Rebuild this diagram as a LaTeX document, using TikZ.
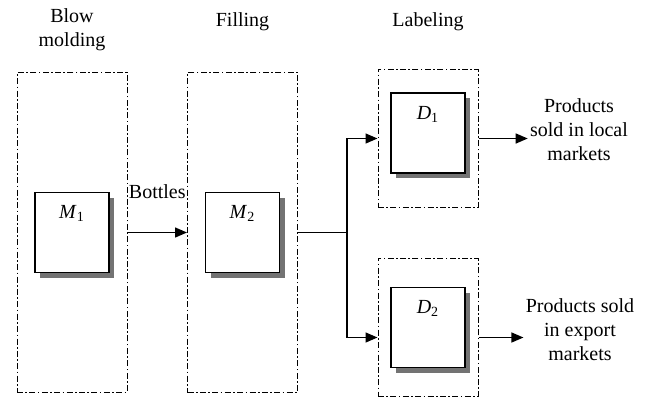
\documentclass[tikz,border=0pt]{standalone}
\usepackage{fontspec}
\setmainfont{Liberation Serif}
\usetikzlibrary{arrows.meta, shapes, positioning, shadows}

\tikzset{
  stage/.style={draw, line width=0.5pt,
    dash pattern=on 3pt off 1.2pt on 0.8pt off 1.2pt,
    minimum width=55pt, minimum height=160pt},
  labstage/.style={stage, minimum width=50pt, minimum height=69pt},
  machine/.style={draw, fill=white, line width=0.7pt,
    minimum width=37pt, minimum height=40pt,
    drop shadow={shadow xshift=2.5pt, shadow yshift=-2.5pt, fill=black!55, opacity=1}},
  mlabel/.style={anchor=north, yshift=-3.5pt},
  flow/.style={-{Triangle[length=6pt, width=5pt]}, line width=0.7pt},
  outtext/.style={align=center, inner sep=1pt},
}

\begin{document}
\begin{tikzpicture}[x=1pt, y=1pt, node distance=2cm, on grid]
    \useasboundingbox (0,0) rectangle (324,199);

    % Stages
    \node[stage] (blow) at (36,82.75) {};
    \node[stage] (fill) [right=85.25pt of blow] {};
    \node[labstage] (lab1) [above right=47pt and 92.75pt of fill] {};
    \node[labstage] (lab2) [below right=47.5pt and 92.75pt of fill] {};

    % Stage titles
    \node[align=center] (tblow) [above=101.25pt of blow] {Blow\\molding};
    \node (tfill) [above=105.25pt of fill] {Filling};
    \node (tlab) [above=58.5pt of lab1] {Labeling};

    % Machines
    \node[machine, label={[mlabel]north:\textit{M}\textsubscript{1}}] (m1) at (blow) {};
    \node[machine, label={[mlabel]north:\textit{M}\textsubscript{2}}] (m2) at (fill) {};
    \node[machine, label={[mlabel]north:\textit{D}\textsubscript{1}}] (d1) [above=2.75pt of lab1] {};
    \node[machine, label={[mlabel]north:\textit{D}\textsubscript{2}}] (d2) at (lab2) {};

    % Markets
    \node[outtext] (local) [above right=4.5pt and 75.5pt of lab1] {Products\\sold in local\\markets};
    \node[outtext] (export) [below right=1.25pt and 76pt of lab2] {Products sold\\in export\\markets};

    % Flows
    \coordinate (split) at ([xshift=24.5pt]fill.east);
    \coordinate (in2) at ([yshift=-5pt]lab2.west);
    \coordinate (out2) at ([yshift=-5pt]lab2.east);
    \draw[flow] (blow.east) -- node[above=13pt] (bottles) {Bottles} (fill.west);
    \draw[line width=0.7pt] (fill.east) -- (split);
    \draw[flow] (split) |- (lab1.west);
    \draw[flow] (split) |- (in2);
    \draw[flow] (lab1.east) -- (local.west |- lab1.east);
    \draw[flow] (out2) -- (export.west |- out2);
\end{tikzpicture}
\end{document}
